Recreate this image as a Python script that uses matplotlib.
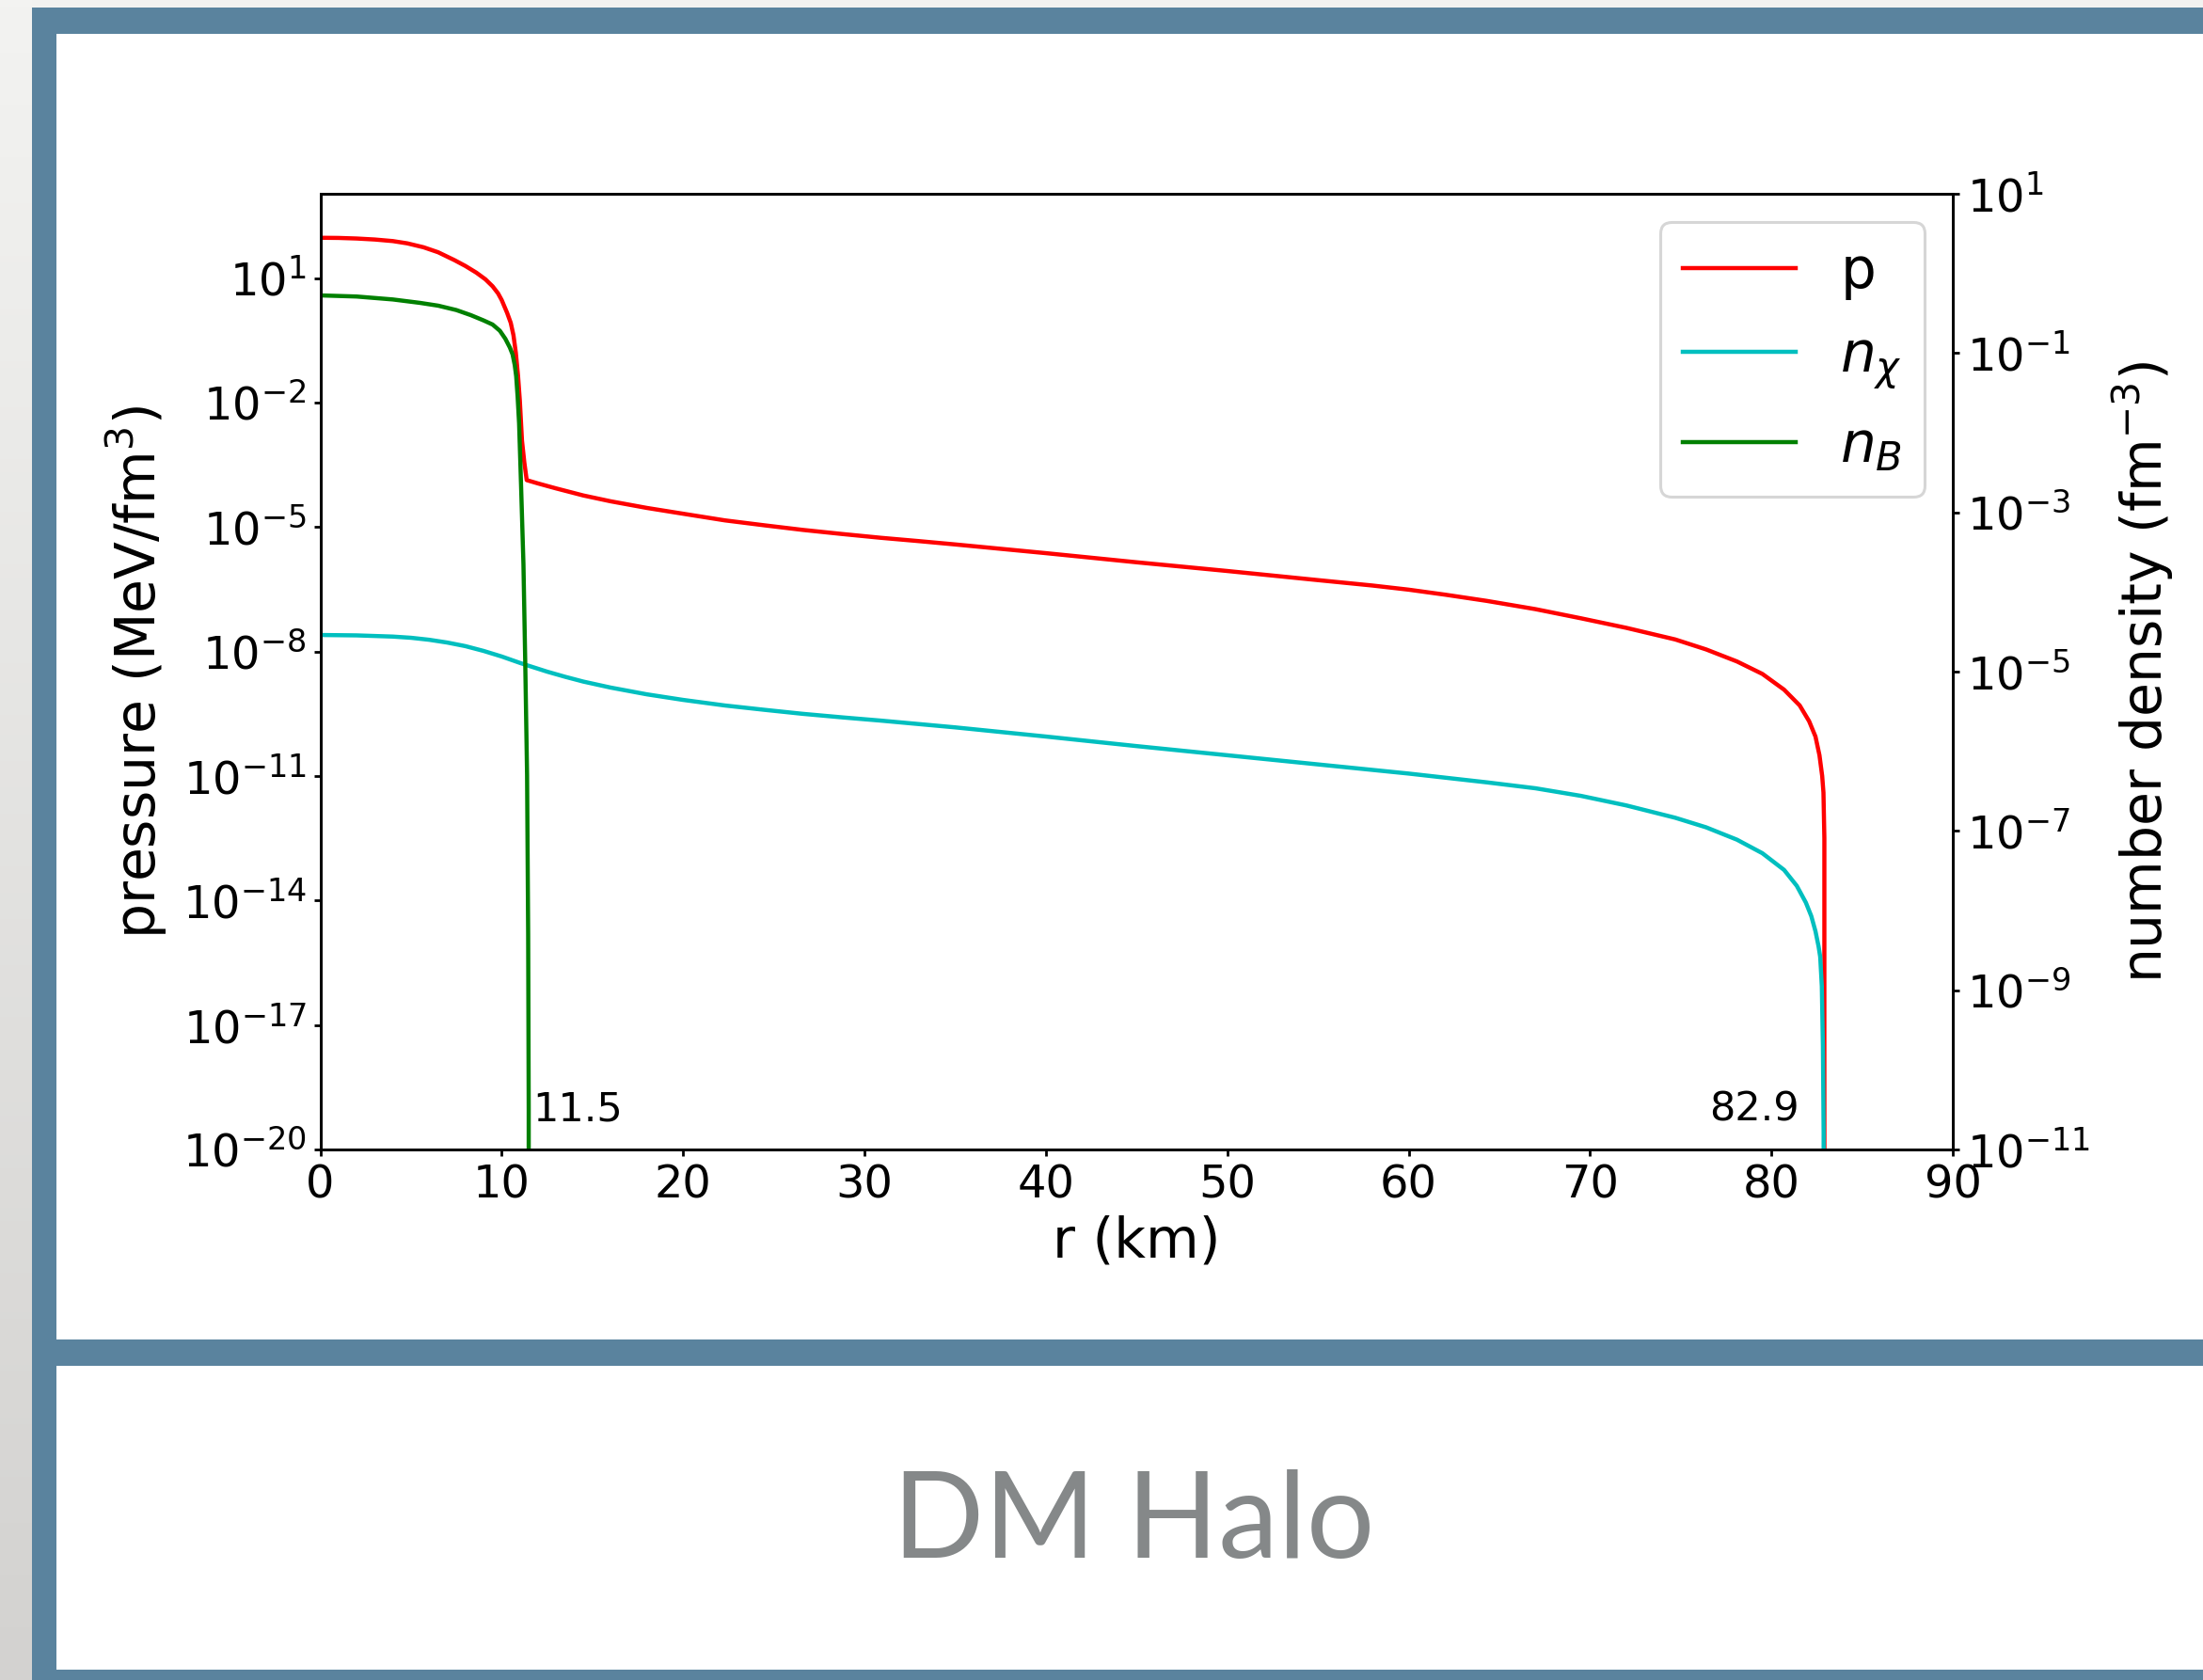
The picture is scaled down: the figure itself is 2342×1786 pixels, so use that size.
import numpy as np
import matplotlib
matplotlib.use("Agg")
import matplotlib.pyplot as plt
from matplotlib.patches import Rectangle
from matplotlib.colors import LinearSegmentedColormap
from matplotlib.ticker import FixedLocator, NullLocator, LogFormatterSciNotation

# ---- radial profiles (r in km), values given as log10 ----
# pressure p (MeV/fm^3); -inf marks the surface where p vanishes
r_p = [0.0, 1.0, 2.0, 3.0, 4.0, 4.8, 5.7, 6.5, 7.4, 8.0, 8.6, 9.1, 9.5, 9.8,
       10.0, 10.3, 10.5, 10.65, 10.78, 10.9, 11.0, 11.12, 11.25, 11.38, 12.0,
       13.0, 14.5, 16.0, 18.0, 20.0, 22.3, 24.5, 26.6, 28.8, 30.9, 33.0, 35.0,
       40.0, 45.0, 50.0, 55.0, 58.0, 60.0, 62.0, 64.3, 67.0, 69.5, 72.0, 74.7,
       76.4, 78.1, 79.5, 80.7, 81.56, 82.08, 82.43, 82.65, 82.8, 82.87, 82.92,
       82.94]
log_p = [1.97, 1.966, 1.952, 1.928, 1.89, 1.835, 1.74, 1.62, 1.43, 1.29, 1.13,
         0.97, 0.80, 0.63, 0.47, 0.16, -0.08, -0.38, -0.80, -1.35, -1.95,
         -2.92, -3.45, -3.87, -3.95, -4.07, -4.24, -4.38, -4.54, -4.68, -4.84,
         -4.96, -5.07, -5.17, -5.26, -5.34, -5.42, -5.63, -5.85, -6.06, -6.28,
         -6.41, -6.51, -6.63, -6.78, -6.98, -7.20, -7.43, -7.71, -7.95, -8.24,
         -8.54, -8.92, -9.30, -9.68, -10.05, -10.5, -11.0, -11.4, -12.5, -np.inf]

# dark-matter number density n_chi (fm^-3)
r_chi = [0.0, 2.0, 4.0, 5.0, 6.0, 7.0, 8.0, 9.0, 10.0, 11.0, 11.4, 12.5, 13.5,
         14.5, 16.0, 18.0, 20.0, 22.3, 24.5, 26.6, 28.8, 30.9, 35.0, 40.0, 45.0,
         50.0, 55.0, 60.0, 64.3, 67.0, 69.5, 72.0, 74.7, 76.4, 78.1, 79.5, 80.7,
         81.4, 81.9, 82.2, 82.43, 82.6, 82.69, 82.78, 82.84, 82.88, 82.9]
log_n_chi = [-4.54, -4.545, -4.56, -4.575, -4.60, -4.635, -4.68, -4.74, -4.81,
             -4.89, -4.92, -5.00, -5.065, -5.125, -5.20, -5.285, -5.355,
             -5.425, -5.48, -5.53, -5.575, -5.615, -5.70, -5.815, -5.935, -6.05,
             -6.165, -6.28, -6.39, -6.465, -6.56, -6.68, -6.835, -6.955, -7.11,
             -7.28, -7.49, -7.69, -7.90, -8.07, -8.26, -8.45, -8.58, -8.95,
             -9.7, -10.8, -np.inf]

# baryon number density n_B (fm^-3)
r_B = [0.0, 2.0, 4.0, 5.5, 6.5, 7.5, 8.3, 9.0, 9.5, 9.9, 10.2, 10.45, 10.6,
       10.72, 10.8, 10.88, 10.96, 11.07, 11.2, 11.3, 11.4, 11.46, 11.49, 11.5]
log_n_B = [-0.276, -0.29, -0.327, -0.37, -0.405, -0.46, -0.524, -0.59, -0.642,
           -0.72, -0.82, -0.93, -1.016, -1.15, -1.29, -1.55, -1.88, -2.67,
           -3.65, -4.9, -6.3, -8.3, -10.5, -np.inf]

x_ticks = [0, 10, 20, 30, 40, 50, 60, 70, 80, 90]
p_ticks = [1e1, 1e-2, 1e-5, 1e-8, 1e-11, 1e-14, 1e-17, 1e-20]
n_ticks = [1e1, 1e-1, 1e-3, 1e-5, 1e-7, 1e-9, 1e-11]

title = "DM Halo"

p = 10.0 ** np.array(log_p)
n_chi = 10.0 ** np.array(log_n_chi)
n_B = 10.0 ** np.array(log_n_B)

# ---- figure & slide frame ----
W, H = 2342, 1786
fig = plt.figure(figsize=(W / 100, H / 100), dpi=100, facecolor="white")

bg = fig.add_axes([0, 0, 1, 1])
bg.set_xlim(0, W)
bg.set_ylim(H, 0)
bg.axis("off")
side = LinearSegmentedColormap.from_list("side", ["#F3F3F1", "#D3D2D0"])
bg.imshow(np.linspace(0, 1, 256).reshape(-1, 1), cmap=side, aspect="auto",
          extent=(0, 34, H, 0))
bg.add_patch(Rectangle((34, 0), W - 34, 8, color="#F2F2F0", lw=0))
blue = "#5A839E"
bg.add_patch(Rectangle((34, 8), W - 34, 28, color=blue, lw=0))
bg.add_patch(Rectangle((34, 8), 26, H - 8, color=blue, lw=0))
bg.add_patch(Rectangle((34, 1424), W - 34, 28, color=blue, lw=0))
bg.add_patch(Rectangle((34, 1775), W - 34, 11, color=blue, lw=0))

fig.text(1205 / W, 1 - 1656 / H, title, family="Lato", fontsize=92,
         color="#858889", ha="center", va="baseline")

# ---- chart ----
ax = fig.add_axes([340.5 / W, 1 - 1222 / H, (2076 - 340.5) / W, (1222 - 206) / H])
ax2 = ax.twinx()

lw = 3.2
l_p, = ax.plot(r_p, p, color="red", lw=lw, label="p")
l_chi, = ax2.plot(r_chi, n_chi, color="c", lw=lw, label=r"$n_\chi$")
l_B, = ax2.plot(r_B, n_B, color="g", lw=lw, label=r"$n_B$")

ax.set_yscale("log")
ax2.set_yscale("log")
ax.set_xlim(0, 90)
ax.set_ylim(1e-20, 10 ** 3.03)
ax2.set_ylim(1e-11, 1e1)

ax.xaxis.set_major_locator(FixedLocator(x_ticks))
ax.yaxis.set_major_locator(FixedLocator(p_ticks))
ax.yaxis.set_major_formatter(LogFormatterSciNotation())
ax.yaxis.set_minor_locator(NullLocator())
ax2.yaxis.set_major_locator(FixedLocator(n_ticks))
ax2.yaxis.set_major_formatter(LogFormatterSciNotation())
ax2.yaxis.set_minor_locator(NullLocator())

for a in (ax, ax2):
    a.tick_params(labelsize=34.5, length=5, width=2, pad=5.5)
    for s in a.spines.values():
        s.set_linewidth(2)

ax.set_xlabel("r (km)", fontsize=42, labelpad=6)
ax.set_ylabel(r"pressure (MeV/fm$^3$)", fontsize=42, labelpad=10)
ax2.set_ylabel(r"number density (fm$^{-3}$)", fontsize=42, labelpad=16)

# surface radii of the baryonic core and the dark-matter halo
R_core = r_B[-1]
R_halo = r_chi[-1]
ax.annotate(f"{R_core:.1f}", xy=(R_core, 0.03), xycoords=("data", "axes fraction"),
            xytext=(3, 0), textcoords="offset points", ha="left", va="baseline",
            fontsize=31)
ax.annotate(f"{R_halo:.1f}", xy=(R_halo, 0.03), xycoords=("data", "axes fraction"),
            xytext=(-19, 0), textcoords="offset points", ha="right", va="baseline",
            fontsize=31)

leg = ax2.legend(handles=[l_p, l_chi, l_B], loc="upper right", fontsize=43,
                 framealpha=0.8, edgecolor="0.8")
leg.get_frame().set_linewidth(2.2)

fig.savefig("out.png", dpi=100, facecolor="white")
